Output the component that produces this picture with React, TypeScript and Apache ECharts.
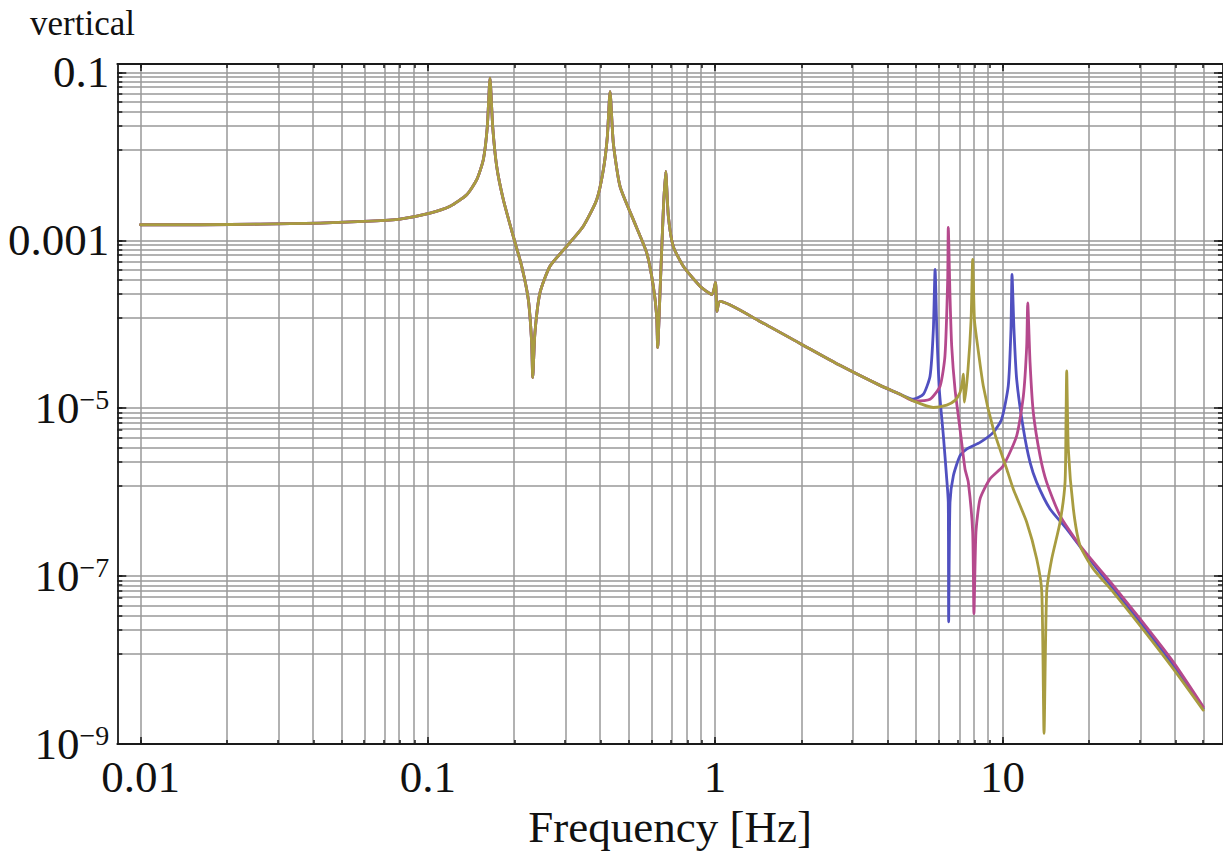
import React, { useEffect, useRef } from 'react';
import * as echarts from 'echarts';

// ---------- data (frequency in Hz, amplitude) ----------
const commonF = [0.01, 0.0161, 0.0261, 0.0422, 0.0629, 0.08, 0.1018, 0.1195, 0.1366, 0.148, 0.156, 0.1611, 0.1646, 0.1682, 0.1737, 0.1832, 0.1984, 0.2122, 0.2238, 0.2299, 0.2318, 0.236, 0.2457, 0.2662, 0.3044, 0.3477, 0.3871, 0.4083, 0.4216, 0.4308, 0.4423, 0.4667, 0.519, 0.578, 0.6094, 0.626, 0.631, 0.643, 0.6604, 0.673, 0.6875, 0.715, 0.775, 0.886, 0.9754, 1.003, 1.015, 1.04, 1.433, 1.975, 2.72, 3.75, 4.4];
const commonA = [1.53e-3, 1.53e-3, 1.555e-3, 1.6e-3, 1.69e-3, 1.79e-3, 2.11e-3, 2.54e-3, 3.49e-3, 5.26e-3, 9.1e-3, 0.0226, 0.085, 0.0226, 7.57e-3, 3.04e-3, 1.11e-3, 4.91e-4, 1.97e-4, 6.04e-5, 2.32e-5, 7.94e-5, 2.37e-4, 4.91e-4, 8.47e-4, 1.47e-3, 3.04e-3, 6.92e-3, 0.0172, 0.0589, 0.01436, 4.37e-3, 1.76e-3, 7.08e-4, 2.84e-4, 1.25e-4, 5.26e-5, 2.37e-4, 2.32e-3, 6.6e-3, 1.93e-3, 8.47e-4, 4.91e-4, 2.84e-4, 2.26e-4, 3.14e-4, 1.42e-4, 1.87e-4, 1.08e-4, 5.91e-5, 3.24e-5, 1.87e-5, 1.47e-5];

const blueF = [4.9, 5.31, 5.6, 5.75, 5.83, 5.91, 6.03, 6.23, 6.4, 6.48, 6.5, 6.57, 6.75, 7.12, 7.51, 8.36, 9.3, 9.94, 10.48, 10.71, 10.8, 10.97, 11.21, 11.83, 12.48, 13.16, 14.65, 16.74, 19.65, 24.3, 30.1, 39.3, 50.0];
const blueA = [1.28e-5, 1.47e-5, 2.42e-5, 8.69e-5, 4.49e-4, 8.69e-5, 1.68e-5, 4.69e-6, 1.44e-6, 7.59e-7, 2.85e-8, 7.59e-7, 1.57e-6, 2.72e-6, 3.26e-6, 3.92e-6, 5.15e-6, 7.41e-6, 1.84e-5, 8.69e-5, 3.91e-4, 8.69e-5, 2.21e-5, 5.64e-6, 2.26e-6, 1.31e-6, 6.31e-7, 3.66e-7, 1.76e-7, 7.08e-8, 2.85e-8, 8.68e-9, 2.66e-9];

const magentaF = [4.9, 5.6, 6.07, 6.31, 6.45, 6.48, 6.57, 6.66, 6.84, 7.12, 7.41, 7.61, 7.88, 7.96, 8.09, 8.36, 9.05, 10.07, 11.21, 11.83, 12.15, 12.25, 12.48, 12.81, 13.52, 14.26, 15.87, 18.63, 24.3, 30.1, 39.3, 50.0];
const magentaA = [1.22e-5, 1.28e-5, 1.84e-5, 4.19e-5, 3.41e-4, 1.42e-3, 2.16e-4, 5.5e-5, 1.68e-5, 5.64e-6, 1.89e-6, 1.31e-6, 3.33e-7, 3.57e-8, 3.33e-7, 8.3e-7, 1.44e-6, 2.07e-6, 4.69e-6, 1.4e-5, 5.5e-5, 1.8e-4, 3.49e-5, 8.89e-6, 2.72e-6, 1.31e-6, 5.26e-7, 2.31e-7, 7.74e-8, 3.11e-8, 9.53e-9, 2.78e-9];

const oliveF = [4.9, 5.75, 6.4, 6.84, 7.12, 7.25, 7.31, 7.38, 7.59, 7.78, 7.88, 7.99, 8.14, 8.58, 9.3, 10.35, 10.91, 12.15, 13.16, 13.71, 13.96, 14.26, 14.85, 15.87, 16.52, 16.65, 16.74, 16.96, 17.66, 18.63, 20.72, 24.3, 30.1, 39.3, 50.0];
const oliveA = [1.22e-5, 1.02e-5, 1.09e-5, 1.24e-5, 1.54e-5, 2.04e-5, 2.54e-5, 1.18e-5, 2.91e-5, 1.14e-4, 5.9e-4, 1.14e-4, 6.61e-5, 1.84e-5, 5.64e-6, 1.89e-6, 1.09e-6, 4.39e-7, 1.61e-7, 6.47e-8, 1.34e-9, 6.47e-8, 1.61e-7, 4.39e-7, 1.31e-6, 7.41e-6, 2.78e-5, 3.26e-6, 6.31e-7, 2.31e-7, 1.22e-7, 6.47e-8, 2.6e-8, 7.93e-9, 2.54e-9];

// ---------- ticks ----------
const xMajorTicks = [0.01, 0.1, 1, 10];
const xTickLabels = ['0.01', '0.1', '1', '10'];
const xMinorMultipliers = [2, 3, 4, 5, 6, 7, 8, 9];
const yMajorTicks = [0.1, 1e-3, 1e-5, 1e-7, 1e-9];
const yTickLabels = ['0.1', '0.001', '10^−5', '10^−7', '10^−9'];
const yMinorFactors = [0.89, 0.78, 0.67, 0.56, 0.45, 0.34, 0.23, 0.12];

const X_MIN = -2.0808;
const X_MAX = 1.7678;
const Y_MIN = -9;
const Y_MAX = -0.901;

const SERIF = '"Liberation Serif", "Times New Roman", serif';
const FRAME = '#1a1a1a';
const GRID = '#999999';

const lg = (v: number) => Math.log10(v);

export default function App() {
  const ref = useRef<HTMLDivElement>(null);

  useEffect(() => {
    if (!ref.current) return;
    const chart = echarts.init(ref.current, null, { renderer: 'svg' });

    const xMajorLog = xMajorTicks.map(lg);
    const xAllLog: number[] = [];
    xMajorTicks.forEach((m) => {
      xAllLog.push(lg(m));
      xMinorMultipliers.forEach((k) => {
        const v = lg(m * k);
        if (v <= X_MAX) xAllLog.push(v);
      });
    });
    const yMajorLog = yMajorTicks.map(lg);
    const yAllLog: number[] = [];
    yMajorTicks.forEach((m) => {
      yAllLog.push(lg(m));
      yMinorFactors.forEach((k) => {
        const v = lg(m * k);
        if (v >= Y_MIN) yAllLog.push(v);
      });
    });

    const toPts = (f: number[], a: number[]) => f.map((v, i) => [lg(v), lg(a[i])]);
    const blueData = toPts(commonF.concat(blueF), commonA.concat(blueA));
    const magentaData = toPts(commonF.concat(magentaF), commonA.concat(magentaA));
    const oliveData = toPts(commonF.concat(oliveF), commonA.concat(oliveA));

    const tickStyle = { color: FRAME, width: 1.5 };
    const frameStyle = { color: FRAME, width: 1.8 };

    const xLabelFor = (v: number) => {
      const i = xMajorLog.findIndex((t) => Math.abs(t - v) < 1e-6);
      return i >= 0 ? xTickLabels[i] : '';
    };
    const yLabelFor = (v: number) => {
      const i = yMajorLog.findIndex((t) => Math.abs(t - v) < 1e-6);
      if (i < 0) return '';
      const s = yTickLabels[i];
      if (s.indexOf('^') >= 0) {
        const [b, e] = s.split('^');
        return '{b|' + b + '}{s|' + e + '}';
      }
      return s;
    };

    const baseX = { type: 'value', min: X_MIN, max: X_MAX, z: 10, splitLine: { show: false } };
    const baseY = { type: 'value', min: Y_MIN, max: Y_MAX, z: 10, splitLine: { show: false } };
    const lineAxis = { show: true, onZero: false, lineStyle: frameStyle };
    const noLine = { show: false, onZero: false };

    const curve = (name: string, data: number[][], color: string, z: number) => ({
      type: 'line',
      name,
      xAxisIndex: 0,
      yAxisIndex: 0,
      z,
      showSymbol: false,
      symbol: 'none',
      smooth: 0.2,
      data,
      lineStyle: { color, width: 2.8, join: 'round', cap: 'round' },
    });

    const option: any = {
      animation: false,
      backgroundColor: '#ffffff',
      title: {
        text: 'vertical',
        left: 30,
        top: 6,
        padding: 0,
        textStyle: { fontFamily: SERIF, fontSize: 35, fontWeight: 'normal', color: '#111' },
      },
      grid: { left: 117.3, right: 0, top: 64, bottom: 108.3, containLabel: false },
      xAxis: [
        {
          ...baseX,
          position: 'bottom',
          axisLine: lineAxis,
          axisTick: { show: true, inside: true, length: 7, customValues: xMajorLog, lineStyle: tickStyle },
          axisLabel: {
            show: true,
            customValues: xMajorLog,
            formatter: xLabelFor,
            fontFamily: SERIF,
            fontSize: 45,
            color: '#111',
            margin: 10,
          },
          name: 'Frequency [Hz]',
          nameLocation: 'middle',
          nameGap: 52,
          nameTextStyle: { fontFamily: SERIF, fontSize: 45, color: '#111' },
        },
        {
          ...baseX,
          position: 'bottom',
          axisLine: noLine,
          axisTick: { show: true, inside: true, length: 4, customValues: xAllLog, lineStyle: tickStyle },
          axisLabel: { show: false },
        },
        {
          ...baseX,
          position: 'top',
          axisLine: lineAxis,
          axisTick: { show: true, inside: true, length: 7, customValues: xMajorLog, lineStyle: tickStyle },
          axisLabel: { show: false },
        },
        {
          ...baseX,
          position: 'top',
          axisLine: noLine,
          axisTick: { show: true, inside: true, length: 4, customValues: xAllLog, lineStyle: tickStyle },
          axisLabel: { show: false },
        },
      ],
      yAxis: [
        {
          ...baseY,
          position: 'left',
          axisLine: lineAxis,
          axisTick: { show: true, inside: true, length: 9, customValues: yMajorLog, lineStyle: tickStyle },
          axisLabel: {
            show: true,
            customValues: yMajorLog,
            formatter: yLabelFor,
            fontFamily: SERIF,
            fontSize: 45,
            color: '#111',
            margin: 8,
            rich: {
              b: { fontFamily: SERIF, fontSize: 45, color: '#111' },
              s: { fontFamily: SERIF, fontSize: 28, color: '#111', verticalAlign: 'top' },
            },
          },
        },
        {
          ...baseY,
          position: 'left',
          axisLine: noLine,
          axisTick: { show: true, inside: true, length: 5, customValues: yAllLog, lineStyle: tickStyle },
          axisLabel: { show: false },
        },
        {
          ...baseY,
          position: 'right',
          axisLine: lineAxis,
          axisTick: { show: true, inside: true, length: 9, customValues: yMajorLog, lineStyle: tickStyle },
          axisLabel: { show: false },
        },
        {
          ...baseY,
          position: 'right',
          axisLine: noLine,
          axisTick: { show: true, inside: true, length: 5, customValues: yAllLog, lineStyle: tickStyle },
          axisLabel: { show: false },
        },
      ],
      series: [
        {
          type: 'line',
          name: 'grid',
          xAxisIndex: 0,
          yAxisIndex: 0,
          z: 1,
          silent: true,
          data: [],
          markLine: {
            silent: true,
            symbol: ['none', 'none'],
            label: { show: false },
            lineStyle: { color: GRID, width: 1.5, type: 'solid' },
            emphasis: { disabled: true },
            data: [
              ...xAllLog.map((v) => ({ xAxis: v })),
              ...yAllLog.map((v) => ({ yAxis: v })),
            ],
          },
        },
        curve('blue', blueData, '#5050C0', 5),
        curve('magenta', magentaData, '#B5498D', 6),
        curve('olive', oliveData, '#A89C40', 7),
      ],
    };

    chart.setOption(option);
    return () => chart.dispose();
  }, []);

  return (
    <div
      ref={ref}
      style={{ position: 'fixed', left: 0, top: 0, width: 1223, height: 854, background: '#fff' }}
    />
  );
}
